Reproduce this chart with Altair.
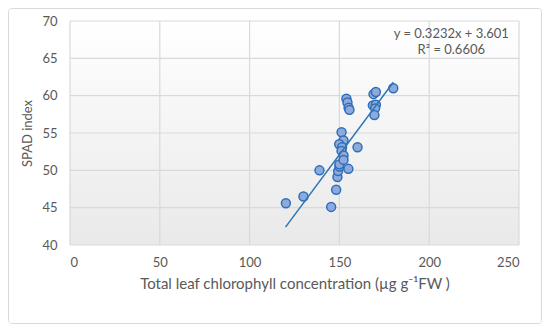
import altair as alt
import pandas as pd

# Scatter data
chl = [120.2, 130.0, 138.9, 145.4, 148.2, 148.9, 149.3, 150.0, 150.0, 151.2,
       152.3, 149.9, 151.5, 151.2, 152.3, 152.3, 155.0, 160.1, 153.9, 154.5,
       155.1, 155.6, 169.0, 170.3, 168.6, 170.3, 169.9, 169.5, 180.0]
spad = [45.6, 46.5, 50.0, 45.1, 47.4, 49.1, 49.9, 50.5, 50.8, 55.1,
        54.0, 53.5, 53.1, 52.6, 52.0, 51.4, 50.2, 53.1, 59.6, 59.1,
        58.4, 58.1, 60.2, 60.5, 58.7, 58.8, 58.3, 57.4, 61.0]

# Trendline end points
trend_x = [120, 180]
trend_y = [42.4, 61.8]

# Equation annotation
ann_text = ["y = 0.3232x + 3.601", "R² = 0.6606"]
ann_x = [212.3, 212.3]
ann_y = [68.3, 66.1]

x_ticks = [0, 50, 100, 150, 200, 250]
y_ticks = [40, 45, 50, 55, 60, 65, 70]

W, H = 449, 224
FONT = "Lato"
GRAY = "#595959"
GRID = "#D9D9D9"

pts = pd.DataFrame({"x": chl, "y": spad})
trend = pd.DataFrame({"x": trend_x, "y": trend_y})
ann = pd.DataFrame({"x": ann_x, "y": ann_y, "t": ann_text})
xt = pd.DataFrame({"x": x_ticks})
yt = pd.DataFrame({"y": y_ticks})

xs = alt.Scale(domain=[0, 250], nice=False)
ys = alt.Scale(domain=[40, 70], nice=False, zero=False)

xaxis = alt.Axis(values=x_ticks, title="Total leaf chlorophyll concentration (µg g⁻¹FW )",
                 grid=False, ticks=False, domain=False, labelPadding=11,
                 titlePadding=7, labelFontSize=13, titleFontSize=15,
                 titleFontWeight="normal", labelOverlap=False)
yaxis = alt.Axis(values=y_ticks, title="SPAD index", grid=False, ticks=False,
                 domain=False, labelPadding=13, titlePadding=7, labelFontSize=13,
                 titleFontSize=13, titleFontWeight="normal", labelOverlap=False)


def X(field):
    return alt.X(field, scale=xs, axis=xaxis)


def Y(field):
    return alt.Y(field, scale=ys, axis=yaxis)


grad = alt.LinearGradient(gradient="linear", x1=0, x2=0, y1=0, y2=1,
                          stops=[alt.GradientStop(color="#FFFFFF", offset=0),
                                 alt.GradientStop(color="#E9E9E9", offset=1)])

one = pd.DataFrame({"a": [0]})

bg = alt.Chart(one).mark_rect(fill=grad, stroke=None).encode(
    x=alt.value(0), x2=alt.value(W), y=alt.value(0), y2=alt.value(H))

border = alt.Chart(one).mark_rect(
    fill="transparent", stroke=GRID, strokeWidth=1, cornerRadius=3
).encode(x=alt.value(-61.5), x2=alt.value(471.5), y=alt.value(-12.5), y2=alt.value(302.5))

vgrid = alt.Chart(xt).mark_rule(color=GRID, strokeWidth=1.2).encode(x=X("x:Q"))
hgrid = alt.Chart(yt).mark_rule(color=GRID, strokeWidth=1.2).encode(y=Y("y:Q"))

points = alt.Chart(pts).mark_circle(
    size=80, opacity=1, fill="#8EAADB", stroke="#2F6EBA", strokeWidth=1.5
).encode(x=X("x:Q"), y=Y("y:Q"))

line = alt.Chart(trend).mark_line(color="#2E75B6", strokeWidth=1.5).encode(
    x=X("x:Q"), y=Y("y:Q"))

text = alt.Chart(ann).mark_text(font=FONT, fontSize=13, color=GRAY, align="center",
                                baseline="middle").encode(
    x=X("x:Q"), y=Y("y:Q"), text="t:N")

chart = alt.layer(bg, border, vgrid, hgrid, points, line, text).properties(
    width=W, height=H, autosize="none",
    padding={"left": 62, "top": 13, "right": 23, "bottom": 79},
    background="white"
).configure_view(stroke=None).configure_axis(
    labelFont=FONT, titleFont=FONT, labelColor=GRAY, titleColor=GRAY
)

chart.save("out.html", embed_options={"renderer": "svg", "actions": False})
